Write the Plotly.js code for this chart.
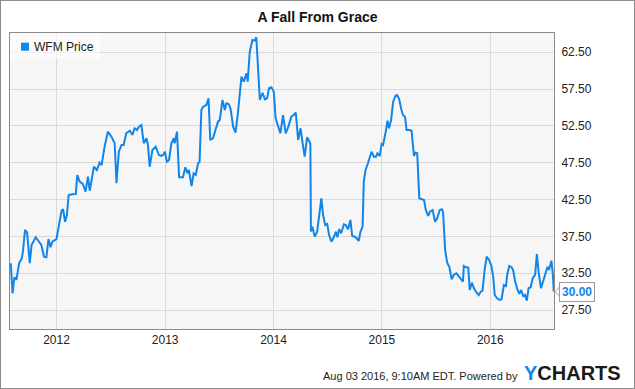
<!DOCTYPE html>
<html>
<head>
<meta charset="utf-8">
<script src="https://cdn.plot.ly/plotly-3.0.1.min.js"></script>
<style>
  html, body { margin: 0; padding: 0; background: #fff; }
  #wrap { width: 635px; height: 389px; box-sizing: border-box; border: 1px solid #8c8c8c; overflow: hidden; position: relative; }
  #chart { position: absolute; left: -1px; top: -1px; width: 635px; height: 389px; }
</style>
</head>
<body>
<div id="wrap"><div id="chart"></div></div>
<script>
const seriesName = "WFM Price";
const chartTitle = "A Fall From Grace";
const footerText = "Aug 03 2016, 9:10AM EDT. Powered by";

const dates = [
"2011-07-31","2011-08-06","2011-08-12","2011-08-19","2011-08-28","2011-09-06","2011-09-10","2011-09-17","2011-09-24","2011-10-03",
"2011-10-09","2011-10-23","2011-11-11","2011-11-20","2011-11-28","2011-12-05","2011-12-12","2011-12-18","2012-01-01","2012-01-09",
"2012-01-18","2012-01-23","2012-01-30","2012-02-05","2012-02-11","2012-02-23","2012-03-06","2012-03-11","2012-03-19","2012-03-30",
"2012-04-08","2012-04-16","2012-04-22","2012-05-06","2012-05-16","2012-05-25","2012-06-01","2012-06-11","2012-06-22","2012-07-04",
"2012-07-15","2012-07-21","2012-07-29","2012-08-07","2012-08-14","2012-08-23","2012-09-04","2012-09-13","2012-09-20","2012-09-28",
"2012-10-05","2012-10-13","2012-10-21","2012-10-30","2012-11-04","2012-11-10","2012-11-19","2012-11-30","2012-12-11","2012-12-19",
"2012-12-25","2012-12-31","2013-01-07","2013-01-14","2013-01-22","2013-01-30","2013-02-02","2013-02-10","2013-02-17","2013-03-02",
"2013-03-10","2013-03-17","2013-03-22","2013-03-31","2013-04-07","2013-04-14","2013-04-22","2013-04-27","2013-05-03","2013-05-09",
"2013-05-20","2013-05-27","2013-06-02","2013-06-11","2013-06-20","2013-06-28","2013-07-04","2013-07-13","2013-07-21","2013-07-26",
"2013-08-03","2013-08-09","2013-08-18","2013-08-26","2013-09-03","2013-09-15","2013-09-23","2013-10-02","2013-10-06","2013-10-13",
"2013-10-22","2013-10-30","2013-11-04","2013-11-16","2013-11-25","2013-12-03","2013-12-10","2013-12-17","2013-12-25","2014-01-02",
"2014-01-08","2014-01-16","2014-01-24","2014-02-02","2014-02-11","2014-02-20","2014-03-02","2014-03-10","2014-03-17","2014-03-25",
"2014-04-02","2014-04-09","2014-04-16","2014-04-24","2014-05-05","2014-05-07","2014-05-12","2014-05-20","2014-05-28","2014-06-04",
"2014-06-11","2014-06-17","2014-06-24","2014-07-01","2014-07-07","2014-07-15","2014-07-23","2014-07-30","2014-08-04","2014-08-10",
"2014-08-17","2014-08-26","2014-09-01","2014-09-09","2014-09-17","2014-09-23","2014-10-02","2014-10-08","2014-10-15","2014-10-21",
"2014-10-28","2014-11-01","2014-11-07","2014-11-15","2014-11-27","2014-12-05","2014-12-12","2014-12-17","2014-12-25","2014-12-31",
"2015-01-05","2015-01-14","2015-01-20","2015-01-25","2015-02-01","2015-02-08","2015-02-16","2015-02-21","2015-02-28","2015-03-08",
"2015-03-13","2015-03-20","2015-03-25","2015-04-05","2015-04-11","2015-04-19","2015-04-24","2015-04-30","2015-05-07","2015-05-23",
"2015-05-29","2015-06-06","2015-06-12","2015-06-21","2015-06-29","2015-07-06","2015-07-15","2015-07-22","2015-07-26","2015-08-02",
"2015-08-09","2015-08-16","2015-08-24","2015-08-31","2015-09-09","2015-09-18","2015-10-01","2015-10-04","2015-10-11","2015-10-19",
"2015-10-24","2015-10-31","2015-11-07","2015-11-16","2015-11-23","2015-11-30","2015-12-06","2015-12-13","2015-12-20","2015-12-28",
"2016-01-05","2016-01-11","2016-01-16","2016-01-24","2016-02-02","2016-02-08","2016-02-16","2016-02-23","2016-02-27","2016-03-05",
"2016-03-13","2016-03-18","2016-03-25","2016-04-02","2016-04-08","2016-04-14","2016-04-21","2016-04-27","2016-05-03","2016-05-09",
"2016-05-16","2016-05-23","2016-05-31","2016-06-06","2016-06-12","2016-06-20","2016-06-28","2016-07-05","2016-07-12","2016-07-17",
"2016-07-25","2016-07-30","2016-08-02"
];

const prices = [
33.85, 29.77, 31.94, 31.58, 33.85, 34.52, 35.42, 38.37, 38.00, 33.85,
36.33, 37.38, 36.33, 34.74, 34.66, 37.14, 36.02, 36.78, 37.14, 38.82,
40.99, 41.18, 39.49, 40.40, 43.12, 43.21, 43.25, 45.84, 44.93, 44.61,
43.57, 45.60, 43.70, 46.96, 46.51, 47.51, 47.19, 49.68, 51.72, 51.04,
50.14, 44.71, 49.00, 49.91, 49.91, 51.50, 51.85, 51.27, 52.18, 51.95,
52.40, 52.63, 50.14, 50.82, 49.91, 46.96, 49.23, 49.68, 48.55, 48.42,
48.55, 49.00, 47.64, 47.87, 50.14, 50.82, 50.14, 51.72, 45.52, 45.52,
46.88, 46.07, 46.52, 44.34, 46.07, 45.84, 47.43, 47.64, 54.66, 55.11,
55.34, 56.25, 50.59, 50.82, 51.95, 53.08, 53.30, 56.02, 54.66, 55.57,
55.48, 54.89, 52.40, 51.58, 54.20, 59.19, 58.51, 59.65, 58.51, 62.58,
64.17, 64.08, 64.54, 56.02, 57.01, 56.12, 56.25, 57.61, 57.75, 57.15,
53.54, 52.63, 51.50, 53.98, 51.50, 52.40, 53.75, 53.98, 54.30, 50.59,
52.18, 50.14, 48.32, 50.96, 50.14, 38.16, 38.81, 37.46, 38.14, 40.40,
42.67, 40.40, 39.05, 39.18, 37.69, 36.78, 37.38, 38.14, 37.38, 38.46,
37.92, 39.14, 39.05, 38.46, 39.73, 37.55, 37.46, 37.24, 36.87, 38.14,
38.82, 44.93, 46.52, 47.43, 49.00, 48.32, 48.32, 48.78, 48.42, 50.05,
49.91, 51.72, 53.21, 52.18, 53.30, 55.79, 56.60, 56.70, 56.16, 54.66,
53.98, 53.75, 51.95, 51.95, 51.85, 48.42, 48.87, 48.78, 42.67, 42.44,
41.08, 40.27, 40.85, 41.08, 39.49, 39.95, 41.08, 41.18, 40.85, 35.65,
33.93, 33.38, 31.67, 32.26, 32.49, 32.03, 31.35, 33.48, 33.30, 33.25,
30.22, 31.21, 30.45, 29.85, 29.54, 29.99, 30.12, 32.93, 34.74, 34.29,
33.48, 32.03, 29.54, 29.09, 28.86, 28.96, 30.90, 30.76, 32.25, 33.48,
33.30, 32.93, 31.35, 30.22, 29.68, 30.22, 29.41, 29.54, 28.77, 30.45,
30.59, 31.81, 32.26, 35.10, 32.57, 30.45, 31.58, 32.49, 33.38, 32.93,
34.20, 32.26, 30.00
];

const yTicks = [27.5, 32.5, 37.5, 42.5, 47.5, 52.5, 57.5, 62.5];
const xTicks = ["2012-01-01", "2013-01-01", "2014-01-01", "2015-01-01", "2016-01-01"];
const xTickLabels = ["2012", "2013", "2014", "2015", "2016"];

const blue = "#1185e8";
const FONT = "Liberation Sans, Arial, sans-serif";
const lastValue = prices[prices.length - 1];

const trace = {
  x: dates, y: prices, type: "scatter", mode: "lines",
  line: { color: blue, width: 2 }, name: seriesName,
  hoverinfo: "skip", showlegend: false
};

const layout = {
  width: 635, height: 389,
  margin: { l: 10, r: 81, t: 33, b: 60 },
  paper_bgcolor: "rgba(0,0,0,0)",
  plot_bgcolor: "#f6f6f6",
  font: { family: FONT, size: 12, color: "#222" },
  title: {
    text: "<b>" + chartTitle + "</b>",
    font: { family: FONT, size: 14, color: "#111" },
    x: 0.5, xref: "container", xanchor: "center",
    y: 1 - 17.5 / 389, yref: "container", yanchor: "middle"
  },
  xaxis: {
    type: "date",
    range: ["2011-07-28 10:00", "2016-08-02 17:00"],
    tickmode: "array", tickvals: xTicks, ticktext: xTickLabels,
    showgrid: true, gridcolor: "#d9d9d9", gridwidth: 1,
    showline: true, linecolor: "#8a8a8a", linewidth: 1, mirror: true,
    ticks: "", zeroline: false,
    tickfont: { family: FONT, size: 12, color: "#222" }
  },
  yaxis: {
    side: "right",
    range: [24.92, 65.12],
    tickmode: "array", tickvals: yTicks, tickformat: ".2f",
    showgrid: true, gridcolor: "#d9d9d9", gridwidth: 1,
    showline: true, linecolor: "#8a8a8a", linewidth: 1, mirror: true,
    ticks: "", zeroline: false, ticklabelstandoff: 4,
    tickfont: { family: FONT, size: 12, color: "#222" }
  },
  shapes: [
    { type: "rect", xref: "paper", yref: "paper", layer: "above",
      xsizemode: "pixel", xanchor: 0, x0: 0, x1: 90,
      ysizemode: "pixel", yanchor: 1, y0: -26, y1: 0,
      fillcolor: "rgba(255,255,255,0.6)", line: { width: 0 } },
    { type: "rect", xref: "paper", yref: "paper", layer: "above",
      xsizemode: "pixel", xanchor: 0, x0: 11, x1: 19,
      ysizemode: "pixel", yanchor: 1, y0: -17.7, y1: -9.7,
      fillcolor: blue, line: { width: 0 } },
    { type: "path", xref: "paper", yref: "y", layer: "above",
      xsizemode: "pixel", xanchor: 1, ysizemode: "pixel", yanchor: lastValue,
      path: "M1,0 L6,5 L6,-5 Z",
      fillcolor: "#ffffff", line: { color: "#9a9a9a", width: 1 } }
  ],
  annotations: [
    { xref: "paper", yref: "paper", x: 0, y: 1, xshift: 22, yshift: -13.7,
      xanchor: "left", yanchor: "middle", showarrow: false,
      text: seriesName, font: { family: FONT, size: 12, color: "#222" } },
    { xref: "paper", yref: "y", x: 1, y: lastValue, xshift: 5,
      xanchor: "left", yanchor: "middle", showarrow: false,
      text: "<b>" + lastValue.toFixed(2) + "</b>",
      font: { family: FONT, size: 12, color: blue },
      bgcolor: "#ffffff", bordercolor: "#9a9a9a", borderwidth: 1, borderpad: 2 },
    { xref: "paper", yref: "paper", x: (520 - 10) / 544, y: (329 - 376) / 296,
      xanchor: "right", yanchor: "middle", showarrow: false,
      text: footerText, font: { family: FONT, size: 11, color: "#222" } },
    { xref: "paper", yref: "paper", x: (522 - 10) / 544, y: (329 - 373) / 296,
      xanchor: "left", yanchor: "middle", showarrow: false,
      text: "<b><span style=\"color:" + blue + "\">Y</span>CHARTS</b>",
      font: { family: FONT, size: 20, color: "#1a1a1a" } }
  ]
};

Plotly.newPlot("chart", [trace], layout, { displayModeBar: false, staticPlot: true });
</script>
</body>
</html>
